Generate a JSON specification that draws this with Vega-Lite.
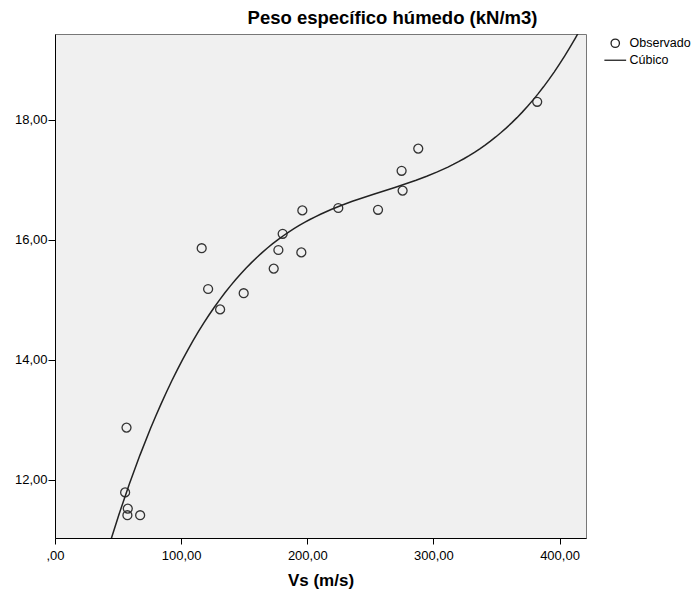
{
  "$schema": "https://vega.github.io/schema/vega-lite/v6.json",
  "width": 531,
  "height": 504,
  "autosize": "none",
  "padding": {"left": 55, "top": 34, "right": 110, "bottom": 58},
  "background": "white",
  "config": {
    "view": {"fill": "#f0f0f0", "stroke": "#777", "strokeWidth": 1},
    "font": "Liberation Sans"
  },
  "title": {
    "text": "Peso específico húmedo (kN/m3)",
    "font": "Liberation Sans",
    "fontSize": 18.5,
    "fontWeight": "bold",
    "color": "#000",
    "anchor": "middle",
    "dx": 72,
    "offset": 7
  },
  "data": {
    "values": [
      {"vs": 56.7, "peso": 12.87},
      {"vs": 55.6, "peso": 11.79},
      {"vs": 57.7, "peso": 11.52},
      {"vs": 57.4, "peso": 11.41},
      {"vs": 67.5, "peso": 11.41},
      {"vs": 116.3, "peso": 15.86},
      {"vs": 180.5, "peso": 16.10},
      {"vs": 177.1, "peso": 15.83},
      {"vs": 195.3, "peso": 15.79},
      {"vs": 173.4, "peso": 15.52},
      {"vs": 121.4, "peso": 15.18},
      {"vs": 149.6, "peso": 15.11},
      {"vs": 130.9, "peso": 14.84},
      {"vs": 288.0, "peso": 17.52},
      {"vs": 274.8, "peso": 17.15},
      {"vs": 275.6, "peso": 16.82},
      {"vs": 224.6, "peso": 16.53},
      {"vs": 256.1, "peso": 16.50},
      {"vs": 196.1, "peso": 16.49},
      {"vs": 382.3, "peso": 18.30}
    ]
  },
  "layer": [
    {
      "mark": {"type": "point", "filled": false, "size": 80, "strokeWidth": 1.3, "color": "#333", "opacity": 1},
      "encoding": {
        "x": {
          "field": "vs", "type": "quantitative",
          "scale": {"domain": [0, 421], "nice": false, "zero": false},
          "axis": {
            "title": "Vs (m/s)", "titleFont": "Liberation Sans", "titleFontSize": 17, "titleFontWeight": "bold", "titleColor": "#000", "titlePadding": 10,
            "values": [0, 100, 200, 300, 400],
            "labelExpr": "datum.value == 0 ? ',00' : replace(format(datum.value, '.2f'), '.', ',')",
            "labelFont": "Liberation Sans", "labelFontSize": 13, "labelColor": "#000", "labelPadding": 5,
            "tickSize": 6, "tickColor": "#000", "domainColor": "#000", "grid": false, "labelFlush": false
          }
        },
        "y": {
          "field": "peso", "type": "quantitative",
          "scale": {"domain": [11.03, 19.43], "nice": false, "zero": false},
          "axis": {
            "title": null,
            "values": [12, 14, 16, 18],
            "labelExpr": "replace(format(datum.value, '.2f'), '.', ',')",
            "labelFont": "Liberation Sans", "labelFontSize": 13, "labelColor": "#000", "labelPadding": 1,
            "tickSize": 7, "tickColor": "#000", "domainColor": "#000", "grid": false
          }
        },
        "shape": {
          "datum": "Observado",
          "scale": {"domain": ["Observado", "Cúbico"], "range": ["circle", "M-2.6,0H2.6"]},
          "legend": {
            "title": null,
            "orient": "none",
            "legendX": 554,
            "legendY": 3,
            "labelFont": "Liberation Sans",
            "labelFontSize": 12.5,
            "labelColor": "#000",
            "labelOffset": 8,
            "symbolSize": 70,
            "symbolStrokeColor": "#222",
            "symbolStrokeWidth": 1.3,
            "symbolFillColor": "transparent",
            "rowPadding": 3
          }
        }
      }
    },
    {
      "transform": [
        {"regression": "peso", "on": "vs", "method": "poly", "order": 3, "extent": [0, 421]}
      ],
      "mark": {"type": "line", "clip": true, "color": "#222", "strokeWidth": 1.5},
      "encoding": {
        "x": {"field": "vs", "type": "quantitative"},
        "y": {"field": "peso", "type": "quantitative"}
      }
    }
  ]
}
